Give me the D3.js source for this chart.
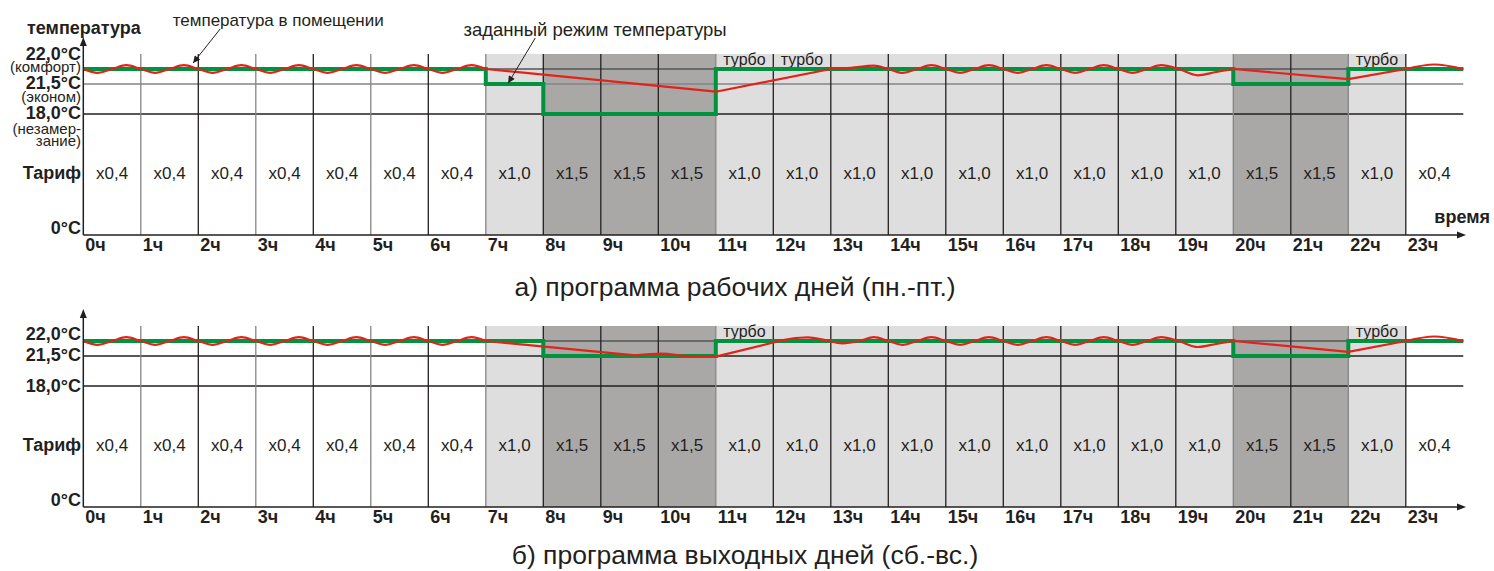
<!DOCTYPE html>
<html><head><meta charset="utf-8">
<script src="https://cdn.jsdelivr.net/npm/d3@7/dist/d3.min.js"></script>
<style>
body{margin:0;background:#fff}
svg{display:block}
text{font-family:"Liberation Sans",Arial,sans-serif;fill:#231f20}
</style>
</head><body>
<svg id="c" width="1494" height="571"></svg>
<script>
// ---------- data ----------
const hourLabels = ["0ч","1ч","2ч","3ч","4ч","5ч","6ч","7ч","8ч","9ч","10ч","11ч",
  "12ч","13ч","14ч","15ч","16ч","17ч","18ч","19ч","20ч","21ч","22ч","23ч"];
const tariffLabels = ["x0,4","x0,4","x0,4","x0,4","x0,4","x0,4","x0,4","x1,0","x1,5","x1,5","x1,5",
  "x1,0","x1,0","x1,0","x1,0","x1,0","x1,0","x1,0","x1,0","x1,0","x1,5","x1,5","x1,0","x0,4"];
const setpointWorkday = [22,22,22,22,22,22,22,21.5,18,18,18,22,22,22,22,22,22,22,22,22,21.5,21.5,22,22];
const setpointWeekend = [22,22,22,22,22,22,22,22,21.5,21.5,21.5,22,22,22,22,22,22,22,22,22,21.5,21.5,22,22];
const turboWorkday = [11,12,22];
const turboWeekend = [11,22];
const roomWorkday = [
  [0,22],[0.25,21.87],[0.5,22],[0.75,22.13],[1,22],[1.25,21.87],[1.5,22],[1.75,22.13],
  [2,22],[2.25,21.87],[2.5,22],[2.75,22.13],[3,22],[3.25,21.87],[3.5,22],[3.75,22.13],
  [4,22],[4.25,21.87],[4.5,22],[4.75,22.13],[5,22],[5.25,21.87],[5.5,22],[5.75,22.13],
  [6,22],[6.25,21.87],[6.5,22],[6.75,22.13],[7,22],
  [11,20.6],
  [13,22],[13.35,22.04],[13.75,22.11],[14,22],[14.25,21.87],[14.5,22],[14.75,22.13],
  [15,22],[15.25,21.87],[15.5,22],[15.75,22.13],[16,22],[16.25,21.87],[16.5,22],[16.75,22.13],
  [17,22],[17.25,21.87],[17.5,22],[17.75,22.13],[18,22],[18.25,21.87],[18.5,22],[18.75,22.13],
  [19.05,22],[19.38,21.79],[19.7,21.9],[20,22],
  [22,21.66],
  [23,22],[23.5,22.15],[24,22]
];
const roomWeekend = [
  [0,22],[0.25,21.87],[0.5,22],[0.75,22.13],[1,22],[1.25,21.87],[1.5,22],[1.75,22.13],
  [2,22],[2.25,21.87],[2.5,22],[2.75,22.13],[3,22],[3.25,21.87],[3.5,22],[3.75,22.13],
  [4,22],[4.25,21.87],[4.5,22],[4.75,22.13],[5,22],[5.25,21.87],[5.5,22],[5.75,22.13],
  [6,22],[6.25,21.87],[6.5,22],[6.75,22.13],[7,22],
  [9.6,21.52],[10.05,21.58],[10.5,21.5],[11,21.42],
  [12,21.95],[12.3,22.07],[12.6,22.12],[12.9,22.03],[13.2,21.92],[13.5,22],[13.75,22.13],
  [14,22],[14.25,21.87],[14.5,22],[14.75,22.13],
  [15,22],[15.25,21.87],[15.5,22],[15.75,22.13],[16,22],[16.25,21.87],[16.5,22],[16.75,22.13],
  [17,22],[17.25,21.87],[17.5,22],[17.75,22.13],[18,22],[18.25,21.87],[18.5,22],[18.75,22.13],
  [19.05,22],[19.38,21.8],[19.7,21.9],[20,22],
  [22,21.64],
  [23,22],[23.5,22.15],[24,22]
];
const tempTicks = [0,18,21.5,22];

// ---------- drawing ----------
const svg = d3.select("#c");
const FONT = '"Liberation Sans",Arial,sans-serif';
const INK = "#231f20", GRAY = "#858585";
const RED = "#e2231a", GREEN = "#00923f";
const shade = {"x0,4":"#ffffff","x1,0":"#dedede","x1,5":"#aaa8a7"};
const grayHours = [1,3,5,7,11,20,22];
const x = d3.scaleLinear().domain([0,24]).range([83.3,1463.3]);

const defs = svg.append("defs");
defs.append("marker").attr("id","ah").attr("viewBox","0 0 10 10").attr("refX",10).attr("refY",5)
  .attr("markerWidth",9).attr("markerHeight",7).attr("markerUnits","userSpaceOnUse").attr("orient","auto")
  .append("path").attr("d","M0,0L10,5L0,10z").attr("fill",INK);

function panel(o){
  const oy = o.oy;
  const y = d3.scaleLinear().domain(tempTicks).range([235,114,84,69].map(v=>v+oy));
  const g = svg.append("g");
  const top = 54+oy, bot = y(0);
  // shading
  g.selectAll("rect.s").data(tariffLabels).join("rect")
    .attr("x",(d,i)=>x(i)).attr("width",(d,i)=>x(i+1)-x(i))
    .attr("y",top).attr("height",bot-top).attr("fill",d=>shade[d]);
  // horizontal grid
  g.selectAll("line.h").data(tempTicks.slice(1)).join("line")
    .attr("x1",x(0)).attr("x2",x(24)).attr("y1",d=>y(d)).attr("y2",d=>y(d))
    .attr("stroke",d=>o.hColor[d]).attr("stroke-width",1.3);
  // vertical grid
  g.selectAll("line.v").data(d3.range(1,24)).join("line")
    .attr("x1",d=>x(d)).attr("x2",d=>x(d)).attr("y1",top).attr("y2",bot)
    .attr("stroke",d=>grayHours.includes(d)?GRAY:INK).attr("stroke-width",1.3);
  // turbo labels
  g.selectAll("text.t").data(o.turbo).join("text")
    .attr("x",d=>x(d)+7.5).attr("y",65+oy).attr("font-size",16).text("турбо");
  // tariff labels
  g.selectAll("text.tar").data(tariffLabels).join("text")
    .attr("x",(d,i)=>x(i+0.5)).attr("y",179+oy).attr("text-anchor","middle")
    .attr("font-size",17).text(d=>d);
  // setpoint (green)
  const sp = o.setpoint.map((v,i)=>[i,v]).concat([[24,o.setpoint[23]]]);
  g.append("path").datum(sp).attr("fill","none").attr("stroke",GREEN).attr("stroke-width",4)
    .attr("stroke-linejoin","miter")
    .attr("d",d3.line().x(d=>x(d[0])).y(d=>y(d[1])).curve(d3.curveStepAfter));
  // room temperature (red): close points -> smooth wave, wide gaps -> straight ramp
  const smooth = d3.line().x(d=>x(d[0])).y(d=>y(d[1])).curve(d3.curveMonotoneX);
  const straight = d3.line().x(d=>x(d[0])).y(d=>y(d[1]));
  const pts = o.room;
  let run = [pts[0]];
  const pieces = [];
  for(let i=1;i<pts.length;i++){
    if(pts[i][0]-pts[i-1][0] > 0.55){
      if(run.length>1) pieces.push(smooth(run));
      pieces.push(straight([pts[i-1],pts[i]]));
      run = [pts[i]];
    } else run.push(pts[i]);
  }
  if(run.length>1) pieces.push(smooth(run));
  g.append("path").attr("d",pieces.join("")).attr("fill","none").attr("stroke",RED)
    .attr("stroke-width",2.2).attr("stroke-linejoin","round");
  // axes
  g.append("line").attr("x1",x(0)).attr("x2",x(0)).attr("y1",bot).attr("y2",44+oy)
    .attr("stroke",INK).attr("stroke-width",1.5);
  g.append("path").attr("d",`M${x(0)},${37+oy}L${x(0)-3.5},${46+oy}L${x(0)+3.5},${46+oy}z`).attr("fill",INK);
  g.append("line").attr("x1",x(0)).attr("x2",1458).attr("y1",bot).attr("y2",bot)
    .attr("stroke",INK).attr("stroke-width",1.5);
  g.append("path").attr("d",`M1466,${bot}L1457,${bot-3.5}L1457,${bot+3.5}z`).attr("fill",INK);
  const ax = g.append("g").attr("transform",`translate(0,${bot})`)
    .call(d3.axisBottom(x).tickValues(d3.range(24)).tickFormat(i=>hourLabels[i]).tickSize(0).tickPadding(3));
  ax.select(".domain").remove();
  ax.attr("font-family",FONT);
  ax.selectAll("text").attr("text-anchor","start").attr("dx",1.5)
    .attr("font-size",18).attr("font-weight","bold").attr("fill",INK);
  // left labels
  const lab = g.append("g").attr("text-anchor","end");
  o.ylabels.forEach(l=>{
    lab.append("text").attr("x",81).attr("y",y(l.t)+l.dy).attr("font-size",l.b?18:15)
      .attr("font-weight",l.b?"bold":"normal").text(l.s);
  });
  lab.append("text").attr("x",81).attr("y",179+oy).attr("font-size",18).attr("font-weight","bold").text("Тариф");
  lab.append("text").attr("x",81).attr("y",bot-1).attr("font-size",18).attr("font-weight","bold").text("0°C");
  // caption
  svg.append("text").attr("x",o.capX).attr("y",o.capY).attr("text-anchor","middle")
    .attr("font-size",26.5).text(o.caption);
  return {g,y};
}

const A = panel({oy:0, setpoint:setpointWorkday, room:roomWorkday, turbo:turboWorkday,
  hColor:{22:"#555",21.5:GRAY,18:INK},
  ylabels:[{t:22,dy:-9,s:"22,0°C",b:1},{t:22,dy:3,s:"(комфорт)"},{t:21.5,dy:5,s:"21,5°C",b:1},
           {t:21.5,dy:18,s:"(эконом)"},{t:18,dy:5,s:"18,0°C",b:1},{t:18,dy:20,s:"(незамер-"},{t:18,dy:32,s:"зание)"}],
  caption:"а) программа рабочих дней (пн.-пт.)", capX:735, capY:296});
const B = panel({oy:272, setpoint:setpointWeekend, room:roomWeekend, turbo:turboWeekend,
  hColor:{22:"#555",21.5:INK,18:INK},
  ylabels:[{t:22,dy:-1,s:"22,0°C",b:1},{t:21.5,dy:5,s:"21,5°C",b:1},{t:18,dy:6,s:"18,0°C",b:1}],
  caption:"б) программа выходных дней (сб.-вс.)", capX:745, capY:564});

// top panel annotations
const ga = A.g.append("g");
ga.append("text").attr("x",x(3.39)).attr("y",26).attr("text-anchor","middle").attr("font-size",17)
  .text("температура в помещении");
ga.append("line").attr("x1",x(2.38)).attr("y1",29).attr("x2",x(1.91)).attr("y2",A.y(22.2))
  .attr("stroke",INK).attr("stroke-width",1).attr("marker-end","url(#ah)");
ga.append("text").attr("x",x(8.9)).attr("y",36).attr("text-anchor","middle").attr("font-size",18.5)
  .text("заданный режим температуры");
ga.append("line").attr("x1",x(7.86)).attr("y1",38).attr("x2",x(7.39)).attr("y2",A.y(21.53))
  .attr("stroke",INK).attr("stroke-width",1).attr("marker-end","url(#ah)");
ga.append("text").attr("x",27).attr("y",34).attr("font-size",18).attr("font-weight","bold").text("температура");
ga.append("text").attr("x",1490).attr("y",223).attr("text-anchor","end").attr("font-size",18)
  .attr("font-weight","bold").text("время");
</script>
</body></html>
